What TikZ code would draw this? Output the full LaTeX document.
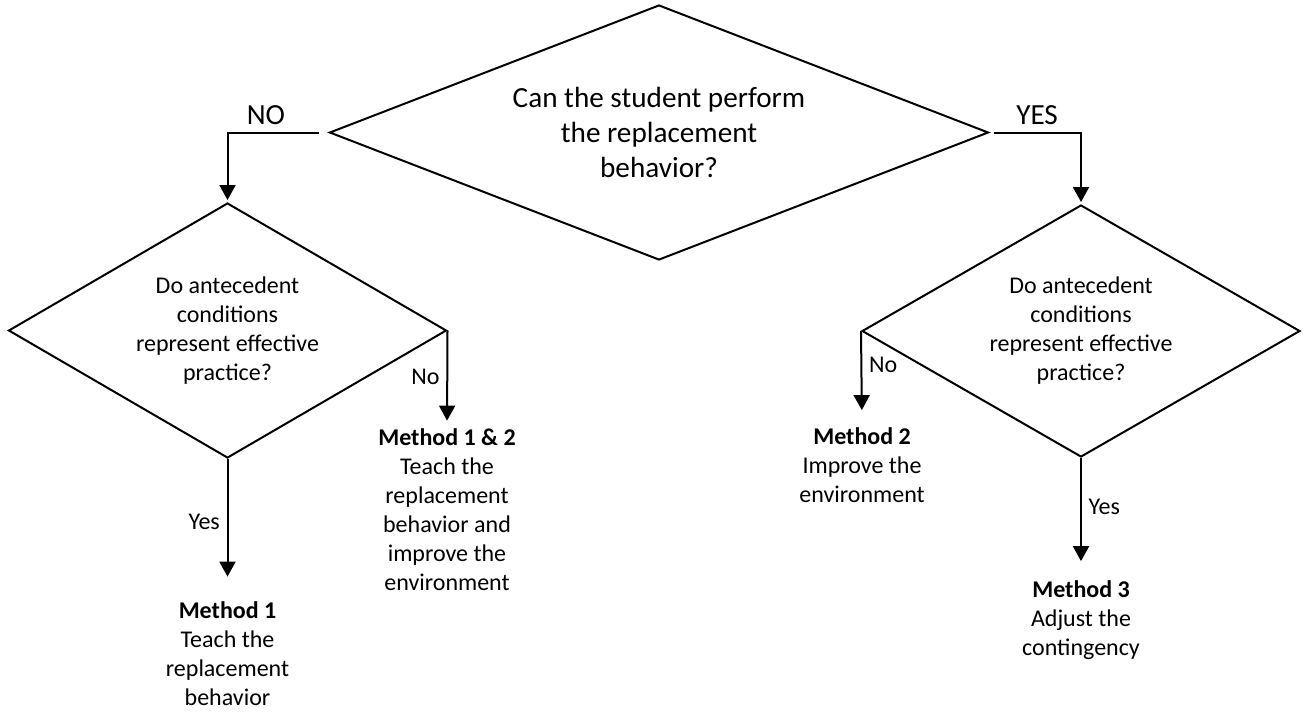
\documentclass[tikz,border=0pt]{standalone}
\usepackage{fontspec}
\setmainfont{Carlito}
\usetikzlibrary{shapes.geometric, arrows.meta, positioning}

\begin{document}
\begin{tikzpicture}[
    x=0.5pt, y=-0.5pt,
    decision/.style={diamond, draw, line width=1pt, inner sep=0pt, align=center},
    bigtext/.style={font=\fontsize{14.6}{17.5}\selectfont},
    smalltext/.style={font=\fontsize{12}{14.5}\selectfont},
    outcome/.style={smalltext, align=center, inner sep=0pt},
    arrow/.style={-{Triangle[width=8pt, length=7.5pt]}, line width=1pt}
]
\useasboundingbox (0,0) rectangle (1304,713);

% Main question
\node[decision, bigtext, aspect=2.58, minimum width=329.5pt, minimum height=127.5pt] (ask) at (659,132.5)
    {Can the student perform\\the replacement\\behavior?};

% NO side
\node[decision, smalltext, aspect=1.72, minimum width=219pt, minimum height=127.5pt] (antl) at (227.5,330.5)
    {Do antecedent\\conditions\\represent effective\\practice?};
\node[outcome] (meth1) at (227.5,654) {\textbf{Method 1}\\Teach the\\replacement\\behavior};
\node[outcome] (meth12) at (447,510) {\textbf{Method 1 \& 2}\\Teach the\\replacement\\behavior and\\improve the\\environment};

% YES side
\node[decision, smalltext, aspect=1.72, minimum width=219pt, minimum height=126pt] (antr) at (1081,331)
    {Do antecedent\\conditions\\represent effective\\practice?};
\node[outcome] (meth2) at (862,465) {\textbf{Method 2}\\Improve the\\environment};
\node[outcome] (meth3) at (1081,620) {\textbf{Method 3}\\Adjust the\\contingency};

% Arrows
\draw[arrow, shorten <=5pt, shorten >=1pt] (ask.west) -| node[bigtext, pos=0.31, above] {NO} (antl.north);
\draw[arrow, shorten <=2pt, shorten >=1pt] (ask.east) -| node[bigtext, pos=0.26, above] {YES} (antr.north);
\draw[arrow, shorten >=4pt] (antl.east) -- node[smalltext, pos=0.47, left] {No} (meth12.north);
\draw[arrow, shorten >=12.5pt] (antl.south) -- node[smalltext, pos=0.44, left] {Yes} (meth1.north);
\draw[arrow, shorten >=8.5pt] (antr.west) -- node[smalltext, pos=0.35, right] {No} (meth2.north);
\draw[arrow, shorten >=9.5pt] (antr.south) -- node[smalltext, pos=0.4, right] {Yes} (meth3.north);

\end{tikzpicture}
\end{document}
